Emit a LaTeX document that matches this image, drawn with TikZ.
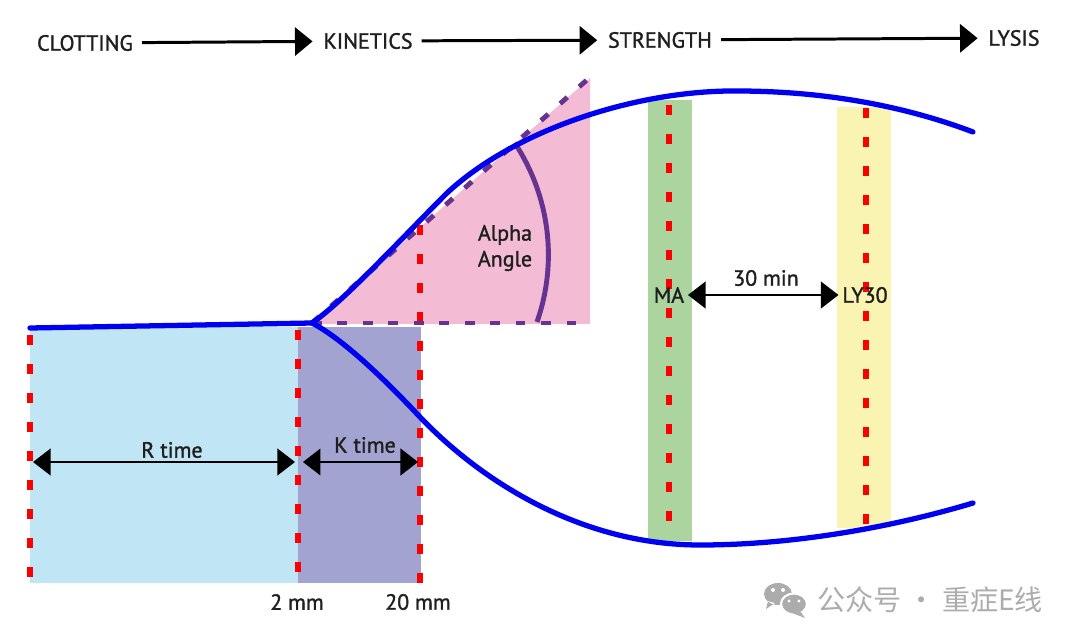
\documentclass[tikz,border=0pt]{standalone}
\usepackage{fontspec}
\setmainfont{PT Sans}
\newfontfamily\lblfont{PT Sans}[FakeBold=1.4]
\newfontfamily\cjkfont{Noto Sans CJK SC}
\usetikzlibrary{arrows.meta}
\definecolor{figR}{RGB}{192,229,244}
\definecolor{figK}{RGB}{163,163,210}
\definecolor{figP}{RGB}{244,188,212}
\definecolor{figG}{RGB}{172,212,158}
\definecolor{figY}{RGB}{250,244,178}
\definecolor{figB}{RGB}{0,0,240}
\definecolor{figRed}{RGB}{250,0,0}
\definecolor{figV}{RGB}{102,51,145}
\definecolor{figW}{RGB}{172,172,172}

\begin{document}
\begin{tikzpicture}[x=0.02cm,y=-0.02cm,
  lbl/.style={font=\lblfont\fontsize{12.5}{14.7}\selectfont,text=black!88,inner sep=2pt},
  marker/.style={figRed,line width=3.1pt,dash pattern=on 5.5pt off 11pt},
  guide/.style={figV,line width=2.8pt,dash pattern=on 5.5pt off 9pt},
  trace/.style={figB,line width=3pt,line cap=round},
  dimarr/.style={line width=1.7pt,{Triangle[length=10pt,width=15pt]}-{Triangle[length=10pt,width=15pt]}},
  flow/.style={line width=1.7pt,-{Triangle[length=10pt,width=16pt]},shorten <=3pt,shorten >=4pt}]
\useasboundingbox (0,0) rectangle (1080,642);
% phase regions
\fill[figR] (30,327) rectangle (298,583); \fill[figK] (298,327) rectangle (421,583);
\fill[figP] (310,324) -- (590,78) -- (590,324) -- cycle;
\fill[figG] (648,100) rectangle (692,541); \fill[figY] (837,107) rectangle (891,528);
% time markers
\foreach \x/\t/\b in {30/335/583, 298/330/583, 420/225/583, 669/105/537, 866/108/525}
  \draw[marker] (\x,\t) -- (\x,\b);
% alpha angle
\coordinate (split) at (312,323);
\draw[guide] (split) -- (588,79); \draw[guide] (split) -- (588,323);
\draw[figV,line width=2.8pt] (537,322) arc[start angle=19.3,end angle=-33.5,radius=203];
% trace
\draw[trace] (30,328) -- (split);
\draw[trace] (split) .. controls (345,300) and (400,240) .. (447,193) .. controls (517,128) and (640,90) .. (737,91) .. controls (830,91) and (910,108) .. (973,132);
\draw[trace] (split) .. controls (345,340) and (390,385) .. (420,417) .. controls (480,480) and (580,545) .. (700,545) .. controls (800,545) and (900,525) .. (973,503);
% phases
\node[lbl] (clot) at (85,43) {CLOTTING};
\node[lbl] (kin) at (368,41) {KINETICS};
\node[lbl] (stren) at (660,40) {STRENGTH};
\node[lbl] (lys) at (1014,38) {LYSIS};
\draw[flow] (clot) -- (kin); \draw[flow] (kin) -- (stren); \draw[flow] (stren) -- (lys);
% labels
\node[lbl,align=center] (alpha) at (505,248) {Alpha\\Angle};
\node[lbl] (ma) at (669,295) {MA}; \node[lbl] (ly) at (865,295) {LY30};
\draw[dimarr] (ma) -- (ly); \node[lbl] (thirty) at (766,278) {30 min};
\coordinate (r0) at (30,462); \coordinate (r1) at (298,462); \coordinate (k1) at (420,462);
\draw[dimarr,shorten <=1.7pt,shorten >=1.7pt] (r0) -- (r1);
\draw[dimarr,shorten <=2.8pt,shorten >=1.1pt] (r1) -- (k1);
\node[lbl] (rtime) at (172,450) {R time}; \node[lbl] (ktime) at (365,445) {K time};
\node[lbl] (mm2) at (297,602) {2 mm}; \node[lbl] (mm20) at (418,602) {20 mm};
% watermark
\fill[figW] (778,594) ellipse[x radius=14,y radius=11] (768,601) -- (766,609) -- (775,603) -- cycle;
\draw[white,line width=1.2pt,fill=figW] (794,604) ellipse[x radius=13,y radius=10.5];
\fill[figW] (800,611) -- (805,618) -- (792,613) -- cycle;
\fill[white] (773,590) circle[radius=2] (783,590) circle[radius=2] (789,601) circle[radius=1.6] (799,601) circle[radius=1.6];
\node[font=\cjkfont\fontsize{16}{16}\selectfont,text=figW] (mark) at (930,600) {公众号 · 重症E线};
\end{tikzpicture}
\end{document}
